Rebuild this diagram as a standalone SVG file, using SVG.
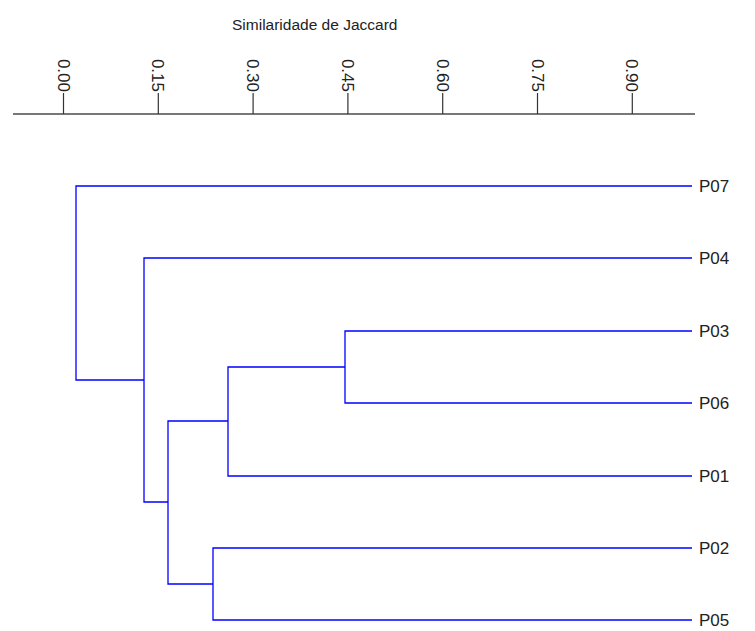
<svg xmlns="http://www.w3.org/2000/svg" width="755" height="631" viewBox="0 0 755 631">
<style>
.ttl{font-family:"Liberation Sans",Arial,sans-serif;font-size:15.5px;fill:#222}
.lbl{font-family:"Liberation Sans",Arial,sans-serif;font-size:17px;fill:#222}
.tick{font-family:"Liberation Sans",Arial,sans-serif;font-size:17px;fill:#222}
.ax{stroke:#777;stroke-width:2;fill:none}
.tk{stroke:#333;stroke-width:1.2;fill:none}
.br{stroke:#0000ff;stroke-width:1.3;fill:none}
</style>
<rect width="755" height="631" fill="#fff"/>
<g id="axis">
<text class="ttl" x="232" y="30">Similaridade de Jaccard</text>
<line class="ax" x1="13" y1="114" x2="695" y2="114"/>
<g class="tk">
<line x1="63.5" y1="93" x2="63.5" y2="114"/>
<line x1="158.3" y1="93" x2="158.3" y2="114"/>
<line x1="253.1" y1="93" x2="253.1" y2="114"/>
<line x1="347.9" y1="93" x2="347.9" y2="114"/>
<line x1="442.7" y1="93" x2="442.7" y2="114"/>
<line x1="537.5" y1="93" x2="537.5" y2="114"/>
<line x1="632.3" y1="93" x2="632.3" y2="114"/>
</g>
<text class="tick" transform="translate(57.5,92) rotate(90)" text-anchor="end">0.00</text>
<text class="tick" transform="translate(152.3,92) rotate(90)" text-anchor="end">0.15</text>
<text class="tick" transform="translate(247.1,92) rotate(90)" text-anchor="end">0.30</text>
<text class="tick" transform="translate(341.9,92) rotate(90)" text-anchor="end">0.45</text>
<text class="tick" transform="translate(436.7,92) rotate(90)" text-anchor="end">0.60</text>
<text class="tick" transform="translate(531.5,92) rotate(90)" text-anchor="end">0.75</text>
<text class="tick" transform="translate(626.3,92) rotate(90)" text-anchor="end">0.90</text>
</g>
<g id="connectors">
<path class="br" d="M692,186 H76 V380 H144"/>
<path class="br" d="M692,258 H144 V502 H168"/>
<path class="br" d="M692,331 H345 V403 H692"/>
<path class="br" d="M345,367 H228 V476 H692"/>
<path class="br" d="M228,421 H168 V584 H213"/>
<path class="br" d="M692,548 H213 V620 H692"/>
</g>
<g id="P07"><text class="lbl" x="699" y="192">P07</text></g>
<g id="P04"><text class="lbl" x="699" y="264">P04</text></g>
<g id="P03"><text class="lbl" x="699" y="337">P03</text></g>
<g id="P06"><text class="lbl" x="699" y="409">P06</text></g>
<g id="P01"><text class="lbl" x="699" y="482">P01</text></g>
<g id="P02"><text class="lbl" x="699" y="554">P02</text></g>
<g id="P05"><text class="lbl" x="699" y="626">P05</text></g>
</svg>
